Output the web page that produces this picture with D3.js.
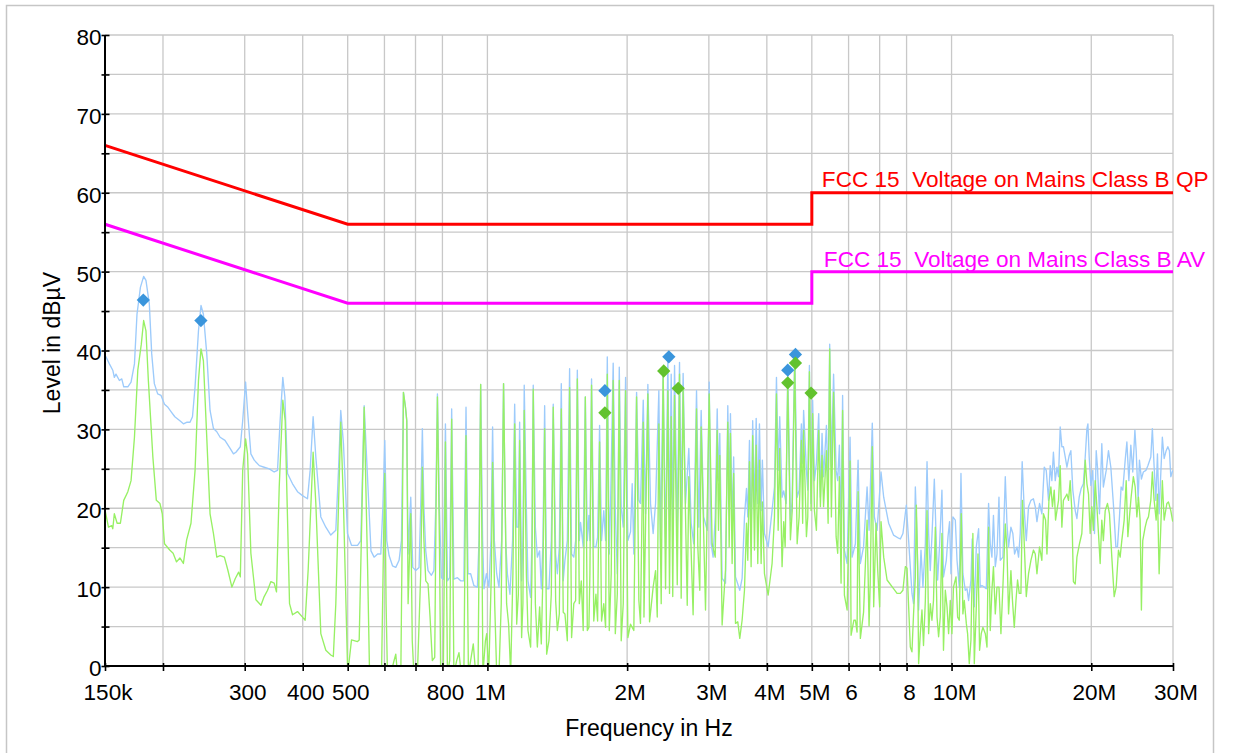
<!DOCTYPE html>
<html>
<head>
<meta charset="utf-8">
<script src="https://cdn.jsdelivr.net/npm/d3@7"></script>
<style>
html, body { margin:0; padding:0; background:#fff; }
svg { display:block; font-family: "Liberation Sans", Arial, "DejaVu Sans", sans-serif; }
</style>
</head>
<body>
<script>
// ---------------- DATA ----------------
// frequency in MHz, level in dBµV
const xTickValues = [0.15,0.2,0.3,0.4,0.5,0.6,0.7,0.8,1,2,3,4,5,6,7,8,10,20,30];
const xTickLabels = ["150k","","300","400","500","","","800","1M","2M","3M","4M","5M","6","","8","10M","20M","30M"];
const yTickValues = [0,5,10,15,20,25,30,35,40,45,50,55,60,65,70,75,80];
const yTickLabels = ["0","","10","","20","","30","","40","","50","","60","","70","","80"];

const qpLimit = [[0.15,66],[0.5,56],[5,56],[5,60],[30,60]];
const avLimit = [[0.15,56],[0.5,46],[5,46],[5,50],[30,50]];
const qpLimitLabel = "FCC 15  Voltage on Mains Class B QP";
const avLimitLabel = "FCC 15  Voltage on Mains Class B AV";

const qpMarkers = [[0.1814,46.4],[0.2414,43.8],[1.791,34.9],[2.460,39.2],[4.437,37.5],[4.610,39.5]];
const avMarkers = [[1.791,32.1],[2.398,37.4],[2.577,35.2],[4.437,35.9],[4.610,38.4],[4.981,34.6]];

const peakTrace = [
[0.1500,39.4],[0.1507,39.2],[0.1533,38.3],[0.1559,37.5],[0.1571,36.6],[0.1584,37.0],[0.1611,36.2],[0.1630,36.4],[0.1646,35.4],[0.1680,35.4],[0.1707,36.0],[0.1736,38.3],[0.1758,44.6],[0.1788,48.0],[0.1817,49.4],[0.1838,48.9],[0.1869,45.9],[0.1891,39.6],[0.1916,35.8],[0.1948,34.5],[0.1981,34.3],[0.2015,33.2],[0.2050,32.8],[0.2085,32.2],[0.2121,31.6],[0.2175,31.1],[0.2213,30.7],[0.2249,30.9],[0.2287,30.9],[0.2315,31.6],[0.2345,35.4],[0.2385,42.5],[0.2415,45.7],[0.2444,44.6],[0.2485,39.6],[0.2526,32.4],[0.2569,30.1],[0.2612,29.7],[0.2655,29.0],[0.2720,28.6],[0.2790,27.6],[0.2837,26.9],[0.2872,27.1],[0.2935,27.8],[0.2970,31.1],[0.3013,36.0],[0.3042,32.4],[0.3093,26.9],[0.3145,26.1],[0.3226,25.4],[0.3304,25.2],[0.3390,25.0],[0.3472,24.6],[0.3530,24.8],[0.3576,31.1],[0.3624,36.6],[0.3661,34.1],[0.3710,24.4],[0.3803,23.1],[0.3898,22.1],[0.3996,21.6],[0.4096,21.2],[0.4150,24.8],[0.4212,31.6],[0.4269,26.5],[0.4376,18.9],[0.4486,17.6],[0.4598,16.6],[0.4714,17.2],[0.4777,24.8],[0.4831,32.4],[0.4896,28.2],[0.4995,16.8],[0.5095,15.3],[0.5250,15.3],[0.5337,15.9],[0.5426,33.0],[0.5500,25.6],
[0.5612,14.6],[0.5700,13.8],[0.5800,14.2],[0.5893,14.2],[0.5953,20.1],[0.6010,28.6],[0.6070,15.9],[0.6140,14.0],[0.6245,12.7],[0.6347,12.5],[0.6452,13.4],[0.6528,15.9],[0.6593,34.7],[0.6660,32.8],[0.6703,31.1],[0.6747,14.2],[0.6837,21.4],[0.6905,12.5],[0.7009,12.1],[0.7124,12.5],[0.7183,20.1],[0.7242,30.1],[0.7298,20.1],[0.7365,14.6],[0.7449,12.1],[0.7574,11.5],[0.7669,12.1],[0.7739,20.1],[0.7804,34.5],[0.7881,20.1],[0.7958,11.2],[0.8035,11.0],[0.8120,30.7],[0.8201,10.8],[0.8294,11.2],[0.8375,32.6],[0.8468,11.0],[0.8618,11.2],[0.8758,10.8],[0.8898,10.8],[0.8993,32.8],[0.9083,11.7],[0.9203,11.7],[0.9351,10.2],[0.9516,10.0],[0.9591,15.9],[0.9671,35.7],[0.9765,15.9],[0.9832,9.8],[0.9950,11.7],[1.0078,10.0],[1.0177,15.9],[1.0261,30.3],[1.0351,15.9],[1.0471,11.7],[1.0591,10.0],[1.0731,15.9],[1.0834,35.8],[1.0949,15.9],[1.1042,11.7],[1.1183,9.1],[1.1330,15.9],[1.1448,33.2],[1.1563,17.6],[1.1659,17.6],[1.1734,30.9],[1.1849,10.8],[1.1926,15.9],[1.2004,35.6],[1.2132,20.1],[1.2229,10.8],[1.2391,8.7],[1.2470,15.9],[1.2553,35.6],[1.2686,17.6],[1.2812,13.8],[1.2957,14.6],[1.3065,9.8],[1.3173,15.9],[1.3284,33.0],[1.3417,9.8],[1.3569,9.8],[1.3729,15.9],[1.3862,33.2],[1.4029,14.2],[1.4148,11.7],[1.4287,15.1],[1.4427,35.8],[1.4566,10.8],[1.4690,13.4],[1.4866,15.9],[1.5035,37.7],[1.5182,14.2],[1.5350,13.8],[1.5491,15.9],[1.5622,37.5],[1.5776,15.9],[1.5876,18.2],[1.6084,15.1],[1.6254,34.1],[1.6416,15.9],[1.6545,19.1],[1.6628,15.9],[1.6764,36.4],[1.6950,15.1],[1.7131,15.1],[1.7275,16.3],[1.7446,30.5],[1.7616,15.9],[1.7812,19.7],[1.7974,15.9],[1.8126,39.2],[1.8305,14.2],[1.8422,20.5],[1.8663,38.4],[1.8860,19.7],[1.9048,11.7],[1.9236,37.9],[1.9423,20.1],[1.9617,17.6],[1.9848,36.6],[2.0075,15.9],[2.0341,17.0],[2.0509,23.1],[2.0676,14.2],[2.0960,34.7],[2.1199,21.0],[2.1370,20.6],
[2.1665,33.7],[2.1916,19.3],[2.2167,35.7],[2.2461,20.6],[2.2756,16.8],[2.3030,20.6],[2.3408,34.9],[2.3603,15.1],[2.3912,37.5],[2.4200,14.7],[2.4477,39.2],[2.4680,17.2],[2.4887,37.0],[2.5080,17.6],[2.5304,38.1],[2.5645,17.2],[2.5936,38.5],[2.6151,18.9],[2.6404,37.1],[2.6722,20.6],[2.7161,27.6],[2.7480,18.1],[2.7826,15.5],[2.8220,34.9],[2.8541,17.6],[2.8877,32.4],[2.9240,18.9],[2.9757,17.2],[3.0051,36.0],[3.0344,15.5],[3.0638,13.8],[3.0960,18.9],[3.1269,32.6],[3.1470,23.5],[3.1670,29.5],[3.2040,11.1],[3.2583,10.5],[3.2955,33.0],[3.3182,21.4],[3.3393,32.0],[3.3669,17.2],[3.3928,26.5],[3.4238,11.3],[3.4971,9.6],[3.5380,11.1],[3.5799,18.9],[3.6157,22.5],[3.6393,18.9],[3.6694,28.6],[3.6998,16.0],[3.7285,31.1],[3.7619,19.7],[3.7938,31.4],[3.8240,20.6],[3.8559,30.7],[3.8880,19.7],[3.9123,26.1],[3.9530,16.8],[4.0262,15.1],[4.1052,19.7],[4.1539,22.7],[4.1955,36.6],[4.2308,24.8],[4.2640,31.6],[4.3138,21.4],[4.3487,22.2],[4.4021,20.6],[4.4370,37.8],[4.4960,18.5],[4.5331,20.8],[4.5937,40.0],[4.6488,21.4],[4.6947,22.3],[4.7474,30.7],[4.7776,25.7],[4.8001,32.4],[4.8680,24.8],[4.9005,22.3],[4.9404,38.1],[4.9813,20.6],[5.0200,33.7],[5.0649,23.5],[5.1150,25.7],[5.1737,32.0],[5.2168,21.4],[5.2598,29.5],[5.2997,24.0],[5.3755,30.5],[5.4207,22.3],[5.4633,40.8],[5.5094,25.3],[5.5697,37.0],[5.6402,24.8],[5.6849,23.5],[5.7325,28.0],[5.7806,17.2],[5.8248,34.3],[5.8769,14.7],[5.9562,13.0],[6.0444,29.0],[6.1054,13.8],[6.2065,15.5],[6.2898,26.1],[6.3608,13.0],[6.4627,15.1],[6.5770,22.7],[6.6419,17.2],[6.7490,30.8],[6.8192,18.9],[6.9112,17.2],[7.0476,24.6],[7.1418,21.4],[7.3198,18.1],[7.4989,16.6],[7.6917,16.2],
[7.756,16.1],[7.857,16.8],[7.990,20.4],[8.083,15.9],[8.217,9.2],[8.282,7.9],[8.356,22.7],[8.427,16.4],[8.493,7.1],[8.593,14.7],[8.676,10.0],[8.781,15.5],[8.855,25.9],[8.925,16.8],[8.999,12.1],[9.073,16.4],[9.181,23.7],[9.273,15.5],[9.333,10.9],[9.424,15.3],[9.534,22.3],[9.608,11.3],[9.744,13.4],[9.826,16.4],[9.903,18.3],[9.971,11.7],[10.067,18.9],[10.189,18.5],[10.275,13.4],[10.391,10.0],[10.478,24.4],[10.579,11.7],[10.706,9.6],[10.797,9.8],[10.882,8.3],[11.010,10.9],[11.079,16.1],[11.195,7.5],[11.307,15.1],[11.436,17.4],[11.531,10.0],[11.626,10.2],[11.764,10.0],[11.882,9.8],[12.017,20.6],[12.117,15.5],[12.217,13.8],[12.311,19.1],[12.424,12.6],[12.529,14.2],[12.652,21.4],[12.733,13.4],[12.900,13.8],[13.055,24.0],[13.165,18.0],[13.269,15.1],[13.425,17.6],[13.555,16.8],[13.670,14.2],[13.834,15.1],[13.943,13.8],[14.060,16.8],[14.196,25.9],[14.344,19.7],[14.487,15.9],[14.652,20.2],[14.825,21.0],[15.011,21.2],[15.148,20.2],[15.276,18.3],[15.472,20.6],[15.653,19.3],[15.839,25.2],[15.997,24.8],[16.180,21.0],[16.314,25.4],[16.449,23.5],[16.576,27.1],[16.727,23.5],[16.869,25.2],[17.002,24.0],[17.143,30.3],[17.285,27.8],[17.418,27.8],[17.576,26.5],[17.725,25.2],[17.926,26.7],[18.075,27.3],[18.250,22.3],[18.470,19.7],[18.626,18.7],[18.837,21.4],[19.021,22.5],[19.233,23.1],[19.409,26.5],[19.573,30.1],[19.669,30.7],[19.795,26.5],[19.959,22.9],[20.152,24.8],[20.323,16.8],[20.496,27.3],[20.628,25.2],[20.831,19.3],[21.074,28.2],[21.237,22.7],[21.538,24.8],[21.783,27.3],[22.039,25.2],[22.317,20.6],[22.598,15.1],[22.778,15.1],[23.002,18.9],[23.192,22.7],[23.383,22.3],[23.665,26.1],[23.865,28.4],[24.100,23.5],[24.336,28.0],[24.571,24.6],[24.831,29.9],[24.991,27.3],[25.239,21.0],[25.400,26.1],[25.647,23.7],[25.895,24.6],[26.222,24.8],[26.482,25.4],[26.872,26.5],[27.080,30.1],[27.322,25.2],[27.554,21.0],[27.773,26.9],[28.005,19.3],[28.237,24.4],[28.456,29.0],[28.711,26.3],[28.998,27.3],[29.242,27.8],[29.472,27.3],[29.673,24.0],[29.960,24.8]
];

const avgTrace = [
[0.1500,19.8],[0.1526,17.6],[0.1551,17.8],[0.1559,17.4],[0.1571,19.3],[0.1593,18.1],[0.1619,18.1],[0.1646,21.0],[0.1680,22.1],[0.1707,23.5],[0.1736,29.0],[0.1765,37.5],[0.1796,40.8],[0.1817,43.8],[0.1838,42.5],[0.1860,36.2],[0.1902,26.5],[0.1935,21.0],[0.1970,20.6],[0.1993,19.3],[0.2015,15.5],[0.2068,14.7],[0.2103,14.3],[0.2139,13.2],[0.2175,13.7],[0.2213,13.0],[0.2249,16.0],[0.2298,18.1],[0.2345,24.8],[0.2385,36.2],[0.2415,40.2],[0.2444,38.7],[0.2485,29.0],[0.2526,19.3],[0.2569,16.8],[0.2612,13.8],[0.2655,14.0],[0.2712,13.8],[0.2758,12.2],[0.2815,10.0],[0.2863,11.1],[0.2911,11.9],[0.2935,11.3],[0.2970,24.8],[0.3013,28.8],[0.3042,26.9],[0.3093,14.3],[0.3171,8.4],[0.3252,7.7],[0.3304,8.8],[0.3360,9.6],[0.3416,10.7],[0.3472,10.5],[0.3512,9.4],[0.3560,22.7],[0.3624,33.7],[0.3667,31.1],[0.3747,7.9],[0.3803,6.5],[0.3898,6.9],[0.3996,6.2],[0.4049,5.8],[0.4110,12.2],[0.4212,27.1],[0.4269,20.6],[0.4376,4.1],[0.4486,2.0],[0.4598,1.4],[0.4656,1.2],[0.4714,7.9],[0.4831,30.9],[0.4896,20.6],[0.4995,0.1],[0.5012,-0.5],[0.5095,3.3],[0.5250,3.1],[0.5294,3.3],[0.5426,32.8],[0.5520,12.2],[0.5573,-1],
[0.5669,-1],[0.5914,-1],[0.5974,15.9],[0.6010,24.4],[0.6049,7.9],[0.6090,-1],[0.6191,-1],[0.6294,0.7],[0.6347,1.5],[0.6401,-1],[0.6508,-1],[0.6562,20.1],[0.6593,34.7],[0.6660,32.8],[0.6703,31.1],[0.6747,7.9],[0.6793,13.8],[0.6837,19.3],[0.6888,3.2],[0.6944,-1],[0.7066,-1],[0.7183,11.7],[0.7242,25.2],[0.7298,15.9],[0.7365,10.8],[0.7449,10.4],[0.7524,6.2],[0.7608,0.7],[0.7700,1.1],[0.7751,20.1],[0.7804,34.1],[0.7881,15.9],[0.7931,-1],[0.8035,-1],[0.8120,28.4],[0.8201,-1],[0.8294,0.7],[0.8375,31.3],[0.8468,-1],[0.8588,0.7],[0.8684,1.7],[0.8786,-1],[0.8898,-1],[0.8993,29.2],[0.9101,-1],[0.9203,0.7],[0.9323,2.8],[0.9436,-1],[0.9545,-1],[0.9671,35.7],[0.9780,-1],[0.9901,3.2],[0.9966,4.1],[1.0066,-1],[1.0197,11.7],[1.0261,25.8],[1.0368,7.9],[1.0471,-1],[1.0591,-1],[1.0710,7.9],[1.0834,35.8],[1.0999,7.9],[1.1110,5.3],[1.1222,-1],[1.1349,11.7],[1.1448,30.7],[1.1563,5.3],[1.1659,9.1],[1.1734,28.6],[1.1849,3.6],[1.1926,7.9],[1.2004,32.4],[1.2132,11.7],[1.2229,4.5],[1.2391,2.4],[1.2470,11.7],[1.2553,35.1],[1.2686,7.9],[1.2812,2.4],[1.2957,7.5],[1.3065,2.8],[1.3173,11.7],[1.3284,30.1],[1.3417,1.5],[1.3569,3.2],[1.3729,9.1],[1.3862,32.8],[1.4029,8.3],[1.4148,4.5],[1.4287,6.6],[1.4427,32.6],[1.4566,6.8],[1.4690,6.6],[1.4866,3.2],[1.5035,35.3],[1.5182,3.6],[1.5350,7.9],[1.5491,8.3],[1.5622,36.4],[1.5776,7.9],[1.5931,10.8],[1.6084,4.5],[1.6254,34.1],[1.6416,4.5],[1.6545,4.9],[1.6628,11.7],[1.6764,35.6],[1.6950,5.7],[1.7131,9.1],[1.7275,5.7],[1.7446,28.4],[1.7616,5.7],[1.7812,7.9],[1.7974,4.9],[1.8126,37.0],[1.8305,4.5],[1.8482,11.7],[1.8663,36.2],[1.8860,4.1],[1.9048,9.1],[1.9236,36.2],[1.9423,3.2],[1.9617,7.9],[1.9848,34.9],[2.0075,3.6],[2.0341,5.3],[2.0676,4.5],[2.0960,34.1],[2.1199,8.3],[2.1370,5.4],
[2.1665,30.9],[2.1742,6.2],[2.2167,34.5],[2.2352,5.6],[2.2756,10.0],[2.3030,12.1],[2.3225,6.2],[2.3408,30.7],[2.3683,7.9],[2.3912,37.5],[2.4200,9.8],[2.4477,34.9],[2.4680,9.2],[2.4887,31.6],[2.5080,8.8],[2.5304,34.3],[2.5645,10.3],[2.5936,37.0],[2.6151,8.6],[2.6404,35.1],[2.6948,7.7],[2.7161,24.0],[2.7746,6.5],[2.8220,32.6],[2.8400,15.1],[2.8680,9.6],[2.8877,30.3],[2.9507,7.1],[3.0051,34.5],[3.0491,15.5],[3.0960,13.8],[3.1269,29.9],[3.1470,17.2],[3.1670,26.7],[3.2040,5.2],[3.2583,12.2],[3.2955,30.9],[3.3182,15.1],[3.3393,29.5],[3.3669,13.0],[3.3928,24.4],[3.4238,5.4],[3.4630,5.6],[3.4971,3.5],[3.5380,5.8],[3.5799,9.6],[3.6157,18.1],[3.6393,13.4],[3.6694,25.9],[3.6998,12.6],[3.7285,29.2],[3.7619,14.7],[3.7938,28.0],[3.8240,13.0],[3.8559,26.1],[3.8880,13.0],[3.9123,20.8],[3.9530,11.7],[4.0262,9.0],[4.1052,13.0],[4.1539,18.9],[4.1955,34.5],[4.2308,17.2],[4.2640,27.6],[4.3138,12.6],[4.3487,18.3],[4.3803,15.1],[4.4370,35.8],[4.4960,16.0],[4.5363,19.7],[4.5937,38.5],[4.6488,15.5],[4.6947,18.9],[4.7474,28.6],[4.7776,18.1],[4.8001,29.9],[4.8680,16.4],[4.9005,18.9],[4.9404,37.3],[4.9813,19.7],[5.0200,32.0],[5.0649,19.7],[5.1150,17.2],[5.1737,29.9],[5.2168,20.2],[5.2598,26.7],[5.2997,20.2],[5.3755,27.3],[5.4207,18.1],[5.4633,40.2],[5.5094,18.9],[5.5697,34.7],[5.6402,16.4],[5.6849,14.3],[5.7325,24.0],[5.7806,10.5],[5.8248,32.4],[5.8769,9.0],[5.9562,7.1],[6.0444,26.0],[6.0750,3.9],[6.1588,5.8],[6.2065,5.8],[6.2580,4.3],[6.2898,22.1],[6.3608,3.5],[6.4627,6.8],[6.5770,18.5],[6.6419,5.1],[6.6799,10.5],[6.7490,27.8],[6.7960,7.5],[6.8751,18.1],[6.9322,12.2],[7.0000,7.5],[7.0476,18.3],[7.1418,13.8],[7.2624,10.9],[7.4989,9.8],[7.6315,9.2],
[7.756,9.2],[7.857,9.6],[7.952,12.6],[8.019,12.4],[8.083,7.5],[8.150,2.4],[8.217,1.8],[8.282,6.6],[8.356,11.3],[8.398,20.4],[8.452,12.6],[8.493,0.3],[8.564,4.1],[8.635,7.1],[8.701,2.6],[8.781,8.3],[8.855,19.7],[8.925,4.1],[8.999,7.9],[9.073,5.8],[9.143,8.3],[9.227,17.6],[9.305,6.2],[9.378,3.7],[9.456,6.2],[9.534,16.8],[9.608,2.0],[9.696,9.6],[9.778,7.5],[9.855,4.1],[9.937,8.3],[10.019,4.1],[10.096,10.0],[10.224,11.3],[10.305,6.2],[10.391,5.8],[10.493,19.3],[10.579,6.6],[10.653,8.3],[10.760,5.4],[10.829,4.1],[10.919,0.3],[11.010,3.3],[11.116,16.8],[11.195,0.3],[11.307,7.5],[11.402,14.2],[11.492,2.0],[11.587,4.1],[11.682,4.9],[11.823,4.1],[11.923,2.4],[12.017,17.6],[12.117,4.5],[12.217,9.6],[12.311,12.6],[12.424,6.6],[12.529,10.0],[12.652,10.0],[12.776,4.1],[12.900,10.0],[13.055,18.0],[13.165,14.7],[13.269,6.6],[13.425,12.1],[13.529,8.3],[13.650,4.9],[13.766,8.3],[13.875,10.9],[13.991,9.2],[14.107,9.2],[14.216,21.0],[14.344,15.5],[14.487,8.8],[14.652,11.7],[14.825,13.4],[15.011,14.7],[15.148,14.2],[15.276,11.7],[15.472,15.1],[15.653,13.4],[15.774,19.3],[15.942,18.5],[16.053,14.2],[16.211,21.0],[16.370,22.7],[16.496,20.2],[16.644,22.3],[16.752,18.5],[16.869,19.7],[17.002,21.0],[17.143,25.4],[17.285,17.6],[17.418,21.0],[17.576,21.4],[17.725,21.8],[17.865,21.0],[18.014,23.5],[18.162,19.7],[18.302,10.7],[18.470,10.4],[18.626,13.8],[18.865,15.5],[19.086,16.8],[19.233,21.0],[19.409,26.1],[19.573,23.1],[19.727,21.8],[19.891,16.8],[20.055,20.2],[20.210,17.2],[20.394,23.5],[20.567,20.2],[20.729,16.8],[20.902,13.0],[21.074,18.5],[21.237,15.9],[21.432,19.7],[21.677,20.6],[21.890,19.3],[22.146,13.8],[22.408,8.8],[22.632,10.0],[22.890,14.7],[23.080,13.8],[23.271,15.9],[23.547,18.5],[23.782,23.5],[23.983,16.4],[24.171,18.9],[24.371,21.4],[24.642,24.0],[24.868,22.7],[25.078,18.9],[25.276,21.4],[25.486,18.5],[25.647,7.1],[25.820,15.9],[26.131,17.6],[26.352,18.5],[26.560,18.9],[26.872,21.0],[27.080,24.6],[27.322,21.0],[27.595,18.5],[27.773,21.8],[28.005,11.7],[28.237,17.6],[28.456,23.5],[28.711,18.5],[29.099,20.6],[29.328,20.8],[29.673,19.7],[29.960,18.3]
];

const xTitle = "Frequency in Hz";
const yTitle = "Level in dBµV";

// ---------------- DRAWING ----------------
const W = 1233, H = 753;
const PL = 105, PR = 1173, PT = 35, PB = 666;
const FONT = '"Liberation Sans", Arial, sans-serif';

const x = d3.scaleLog().domain([0.15, 30]).range([PL, PR]);
const y = d3.scaleLinear().domain([0, 80]).range([PB, PT]);

const svg = d3.select("body").append("svg").attr("width", W).attr("height", H);
svg.append("rect").attr("width", W).attr("height", H).attr("fill", "#fff");
svg.append("rect").attr("x", 6.5).attr("y", 5.5).attr("width", 1207).attr("height", 800)
  .attr("fill", "none").attr("stroke", "#c6c6c6").attr("stroke-width", 1.5);

// grid
const grid = svg.append("g").attr("stroke", "#c8c8c8").attr("stroke-width", 1.3);
grid.selectAll("line.h").data(yTickValues.filter(v => v > 0)).join("line")
  .attr("x1", x(0.15)).attr("x2", x(30)).attr("y1", d => y(d)).attr("y2", d => y(d));
grid.selectAll("line.v").data(xTickValues.filter(v => v > 0.15)).join("line")
  .attr("x1", d => x(d)).attr("x2", d => x(d)).attr("y1", y(80)).attr("y2", y(0));

// clip
svg.append("clipPath").attr("id", "plotclip").append("rect")
  .attr("x", PL).attr("y", PT - 10).attr("width", PR - PL).attr("height", PB - PT + 10);

const line = d3.line().x(d => x(d[0])).y(d => y(d[1]));
const traces = svg.append("g").attr("clip-path", "url(#plotclip)");
traces.append("path").datum(peakTrace).attr("d", line)
  .attr("fill", "none").attr("stroke", "#9dcbfb").attr("stroke-width", 1.35).attr("stroke-linejoin", "round");
traces.append("path").datum(avgTrace).attr("d", line)
  .attr("fill", "none").attr("stroke", "#97f064").attr("stroke-width", 1.35).attr("stroke-linejoin", "round");

// limits
svg.append("path").datum(qpLimit).attr("d", line).attr("fill", "none")
  .attr("stroke", "#ff0000").attr("stroke-width", 3);
svg.append("path").datum(avLimit).attr("d", line).attr("fill", "none")
  .attr("stroke", "#ff00ff").attr("stroke-width", 3);

// axes
const xLabelMap = new Map(xTickValues.map((v, i) => [v, xTickLabels[i]]));
const yLabelMap = new Map(yTickValues.map((v, i) => [v, yTickLabels[i]]));

const gx = svg.append("g").attr("transform", `translate(0,${PB - 3})`)
  .call(d3.axisBottom(x).tickValues(xTickValues).tickFormat(d => xLabelMap.get(d))
    .tickSizeInner(8).tickSizeOuter(0).tickPadding(13.5));
gx.select(".domain").remove();
gx.selectAll(".tick line").attr("stroke", "#000").attr("stroke-width", 1.6);
gx.selectAll(".tick text").attr("fill", "#000").attr("font-size", 22.5).attr("font-family", FONT).attr("dx", 2.5);

const gy = svg.append("g").attr("transform", `translate(${PL + 4.5},0)`)
  .call(d3.axisLeft(y).tickValues(yTickValues).tickFormat(d => yLabelMap.get(d))
    .tickSizeInner(8).tickSizeOuter(0).tickPadding(0));
gy.select(".domain").remove();
gy.selectAll(".tick line").attr("stroke", "#000").attr("stroke-width", 1.6);
gy.selectAll(".tick text").attr("fill", "#000").attr("font-size", 22.5).attr("font-family", FONT).attr("dy", "0.42em");

svg.append("line").attr("x1", PL).attr("x2", PL).attr("y1", y(80)).attr("y2", y(0))
  .attr("stroke", "#000").attr("stroke-width", 2);
svg.append("line").attr("x1", PL).attr("x2", PR).attr("y1", y(0)).attr("y2", y(0))
  .attr("stroke", "#000").attr("stroke-width", 2);

// markers
const diamond = d3.symbol().type(d3.symbolSquare).size(88);
svg.append("g").selectAll("path").data(qpMarkers).join("path")
  .attr("d", diamond).attr("fill", "#3a95dc")
  .attr("transform", d => `translate(${x(d[0])},${y(d[1])}) rotate(45)`);
svg.append("g").selectAll("path").data(avMarkers).join("path")
  .attr("d", diamond).attr("fill", "#62c22e")
  .attr("transform", d => `translate(${x(d[0])},${y(d[1])}) rotate(45)`);

// limit labels
svg.append("text").attr("x", x(5) + 10).attr("y", y(60) - 6)
  .attr("fill", "#ff0000").attr("font-size", 22.6).attr("font-family", FONT)
  .style("white-space", "pre").text(qpLimitLabel);
svg.append("text").attr("x", x(5) + 12).attr("y", y(50) - 5)
  .attr("fill", "#ff00ff").attr("font-size", 22.6).attr("font-family", FONT)
  .style("white-space", "pre").text(avLimitLabel);

// titles
svg.append("text").attr("x", (PL + PR) / 2 + 10).attr("y", 736).attr("text-anchor", "middle")
  .attr("fill", "#000").attr("font-size", 23).attr("font-family", FONT).text(xTitle);
svg.append("text").attr("transform", `translate(60,343) rotate(-90)`).attr("text-anchor", "middle")
  .attr("fill", "#000").attr("font-size", 23).attr("font-family", FONT).text(yTitle);
</script>
</body>
</html>
